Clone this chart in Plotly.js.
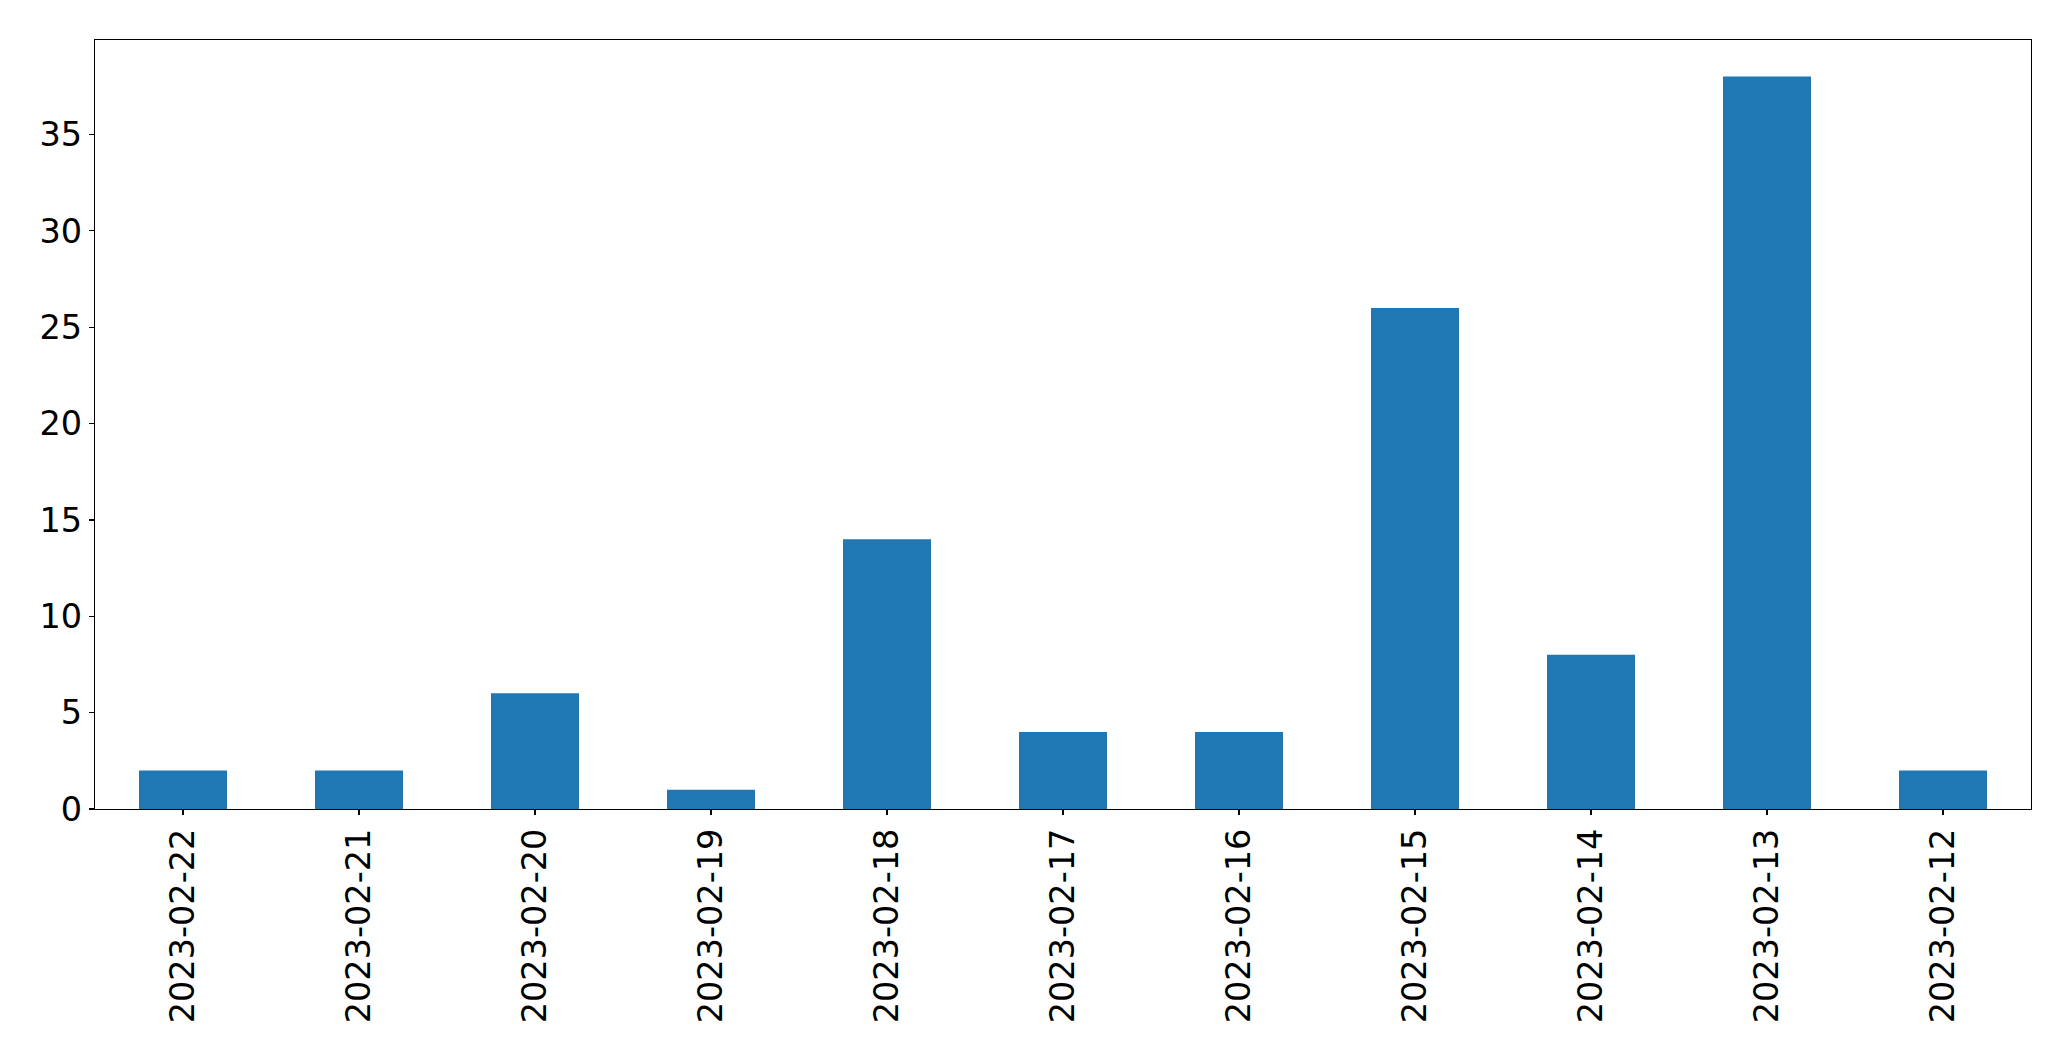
<!DOCTYPE html>
<html>
<head>
<meta charset="utf-8">
<script src="https://cdn.plot.ly/plotly-3.0.1.min.js"></script>
<style>html,body{margin:0;padding:0;background:#fff;}#chart{width:2071px;height:1061px;}</style>
</head>
<body>
<div id="chart"></div>
<script>
const categories = ["2023-02-22","2023-02-21","2023-02-20","2023-02-19","2023-02-18","2023-02-17","2023-02-16","2023-02-15","2023-02-14","2023-02-13","2023-02-12"];
const counts = [2, 2, 6, 1, 14, 4, 4, 26, 8, 38, 2];
const yTicks = [0, 5, 10, 15, 20, 25, 30, 35];

const trace = {
  type: 'bar',
  x: categories,
  y: counts,
  marker: {color: '#1f77b4', line: {width: 0}},
  hoverinfo: 'x+y'
};

const axisFont = {family: 'DejaVu Sans', size: 33.5, color: '#000'};

const layout = {
  width: 2071,
  height: 1061,
  margin: {l: 95, r: 40, t: 40, b: 252, pad: 0},
  paper_bgcolor: '#fff',
  plot_bgcolor: '#fff',
  showlegend: false,
  bargap: 0.5,
  xaxis: {
    type: 'category',
    range: [-0.5, categories.length - 0.5],
    tickangle: -90,
    tickfont: axisFont,
    ticks: 'outside',
    ticklen: 5,
    tickwidth: 1.2,
    tickcolor: '#000',
    showline: true,
    linecolor: '#000',
    linewidth: 1.2,
    mirror: true,
    showgrid: false,
    zeroline: false
  },
  yaxis: {
    range: [0, 39.9],
    tickvals: yTicks,
    ticktext: yTicks.map(String),
    tickfont: axisFont,
    ticks: 'outside',
    ticklen: 5,
    tickwidth: 1.2,
    tickcolor: '#000',
    showline: true,
    linecolor: '#000',
    linewidth: 1.2,
    mirror: true,
    showgrid: false,
    zeroline: false
  }
};

Plotly.newPlot('chart', [trace], layout, {displayModeBar: false, staticPlot: true});
</script>
</body>
</html>
